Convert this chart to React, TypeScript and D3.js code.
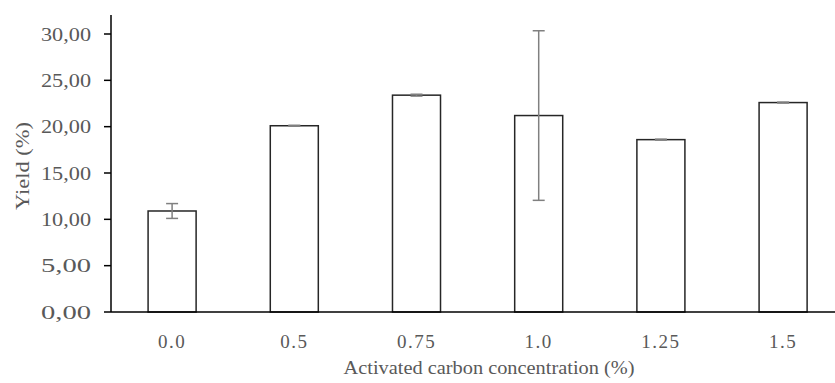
import React from "react";
import * as d3 from "d3";

// concentrations (%) and mean yields with their error bars
const categories = ["0.0", "0.5", "0.75", "1.0", "1.25", "1.5"];
const yields = [10.9, 20.1, 23.4, 21.2, 18.6, 22.6];
const errors = [0.8, 0.05, 0.1, 9.15, 0.05, 0.05];
const yTicks = [0, 5, 10, 15, 20, 25, 30];

const width = 835;
const height = 383;
const font = "Liberation Serif";
const labelColor = "#595959";

const App: React.FC = () => {
  const left = 111;
  const x = d3
    .scaleBand<string>()
    .domain(categories)
    .range([left, left + 6 * 122.2])
    .paddingInner(0.607)
    .paddingOuter(0.3035);

  const y = d3.scaleLinear().domain([0, 30]).range([312, 34]);
  const fmt = (v: number) => v.toFixed(2).replace(".", ",");
  const capHalf = 6;

  return (
    <svg
      width={width}
      height={height}
      style={{ position: "absolute", left: 0, top: 0, background: "#fff", fontFamily: font }}
    >
      {/* bars */}
      {categories.map((c, i) => (
        <rect
          key={c}
          x={x(c)}
          y={y(yields[i])}
          width={x.bandwidth()}
          height={y(0) - y(yields[i])}
          fill="#fff"
          stroke="#262626"
          strokeWidth={1.5}
        />
      ))}

      {/* error bars */}
      {categories.map((c, i) => {
        const cx = (x(c) || 0) + x.bandwidth() / 2;
        const top = y(yields[i] + errors[i]);
        const bot = y(yields[i] - errors[i]);
        return (
          <g key={"e" + c} stroke="#808080" strokeWidth={1.5}>
            <line x1={cx} x2={cx} y1={top} y2={bot} />
            <line x1={cx - capHalf} x2={cx + capHalf} y1={top} y2={top} />
            <line x1={cx - capHalf} x2={cx + capHalf} y1={bot} y2={bot} />
          </g>
        );
      })}

      {/* y axis */}
      <line x1={left} x2={left} y1={y(0)} y2={15} stroke="#000" strokeWidth={1.5} />
      {yTicks.map((t) => (
        <g key={t}>
          <line x1={left - 7} x2={left} y1={y(t)} y2={y(t)} stroke="#000" strokeWidth={1.5} />
          <text
            x={91}
            y={y(t)}
            dy="0.35em"
            textAnchor="end"
            fontSize={19}
            textLength={50}
            lengthAdjust="spacingAndGlyphs"
            fill={labelColor}
          >
            {fmt(t)}
          </text>
        </g>
      ))}

      {/* x axis */}
      <line x1={left} x2={width} y1={y(0)} y2={y(0)} stroke="#000" strokeWidth={1.5} />
      {categories.map((c) => (
        <text
          key={"t" + c}
          x={(x(c) || 0) + x.bandwidth() / 2}
          y={341}
          dy="0.35em"
          textAnchor="middle"
          fontSize={19}
          letterSpacing={1.5}
          fill={labelColor}
        >
          {c}
        </text>
      ))}

      <text
        x={489}
        y={367}
        dy="0.35em"
        textAnchor="middle"
        fontSize={19}
        fill={labelColor}
        textLength={291}
        lengthAdjust="spacingAndGlyphs"
      >
        Activated carbon concentration (%)
      </text>

      <text
        transform={`translate(23,166) rotate(-90)`}
        dy="0.35em"
        textAnchor="middle"
        fontSize={18}
        fill={labelColor}
        textLength={88}
        lengthAdjust="spacingAndGlyphs"
      >
        Yield (%)
      </text>
    </svg>
  );
};

export default App;
